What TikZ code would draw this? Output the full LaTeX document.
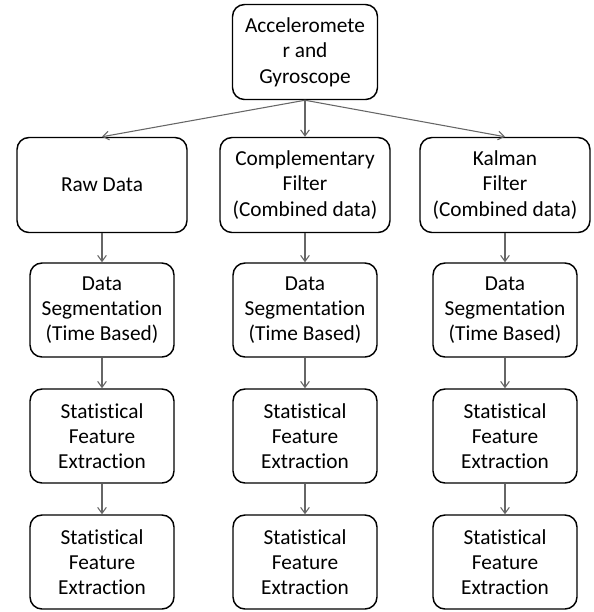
\documentclass[tikz,border=0pt]{standalone}
\usepackage{fontspec}
\setmainfont{Carlito}[Ligatures=NoCommon]
\usetikzlibrary{arrows.meta}
\tikzset{
  box/.style={draw, line width=1.1pt, rounded corners=9pt, align=center,
    inner sep=2pt, font=\fontsize{16}{19}\selectfont},
  topbox/.style={box, minimum width=108.75pt, minimum height=71.25pt},
  widebox/.style={box, minimum width=127.5pt, minimum height=71.25pt},
  stepbox/.style={box, minimum width=108pt, minimum height=70.5pt},
  link/.style={-{Straight Barb[length=4.5pt,width=6.5pt]}, draw=black!60, line width=0.8pt}
}
\begin{document}
\begin{tikzpicture}[x=0.75pt,y=-0.75pt]
\useasboundingbox (0,0) rectangle (594,612);
\node[topbox] (sensor) at (305,52) {Acceleromete\\r and\\Gyroscope};
\foreach \col/\x/\txt in {raw/102/{Raw Data}, comp/305/{Complementary\\Filter\\(Combined data)}, kal/505/{Kalman\\Filter\\(Combined data)}} {
  \node[widebox] (\col-2) at (\x,185) {\txt};
  \node[stepbox] (\col-3) at (\x,310) {Data\\Segmentation\\(Time Based)};
  \node[stepbox] (\col-4) at (\x,436) {Statistical\\Feature\\Extraction};
  \node[stepbox] (\col-5) at (\x,562) {Statistical\\Feature\\Extraction};
  \draw[link] (sensor.south) -- (\col-2.north);
  \draw[link] (\col-2) -- (\col-3);
  \draw[link] (\col-3) -- (\col-4);
  \draw[link] (\col-4) -- (\col-5);
}
\end{tikzpicture}
\end{document}
